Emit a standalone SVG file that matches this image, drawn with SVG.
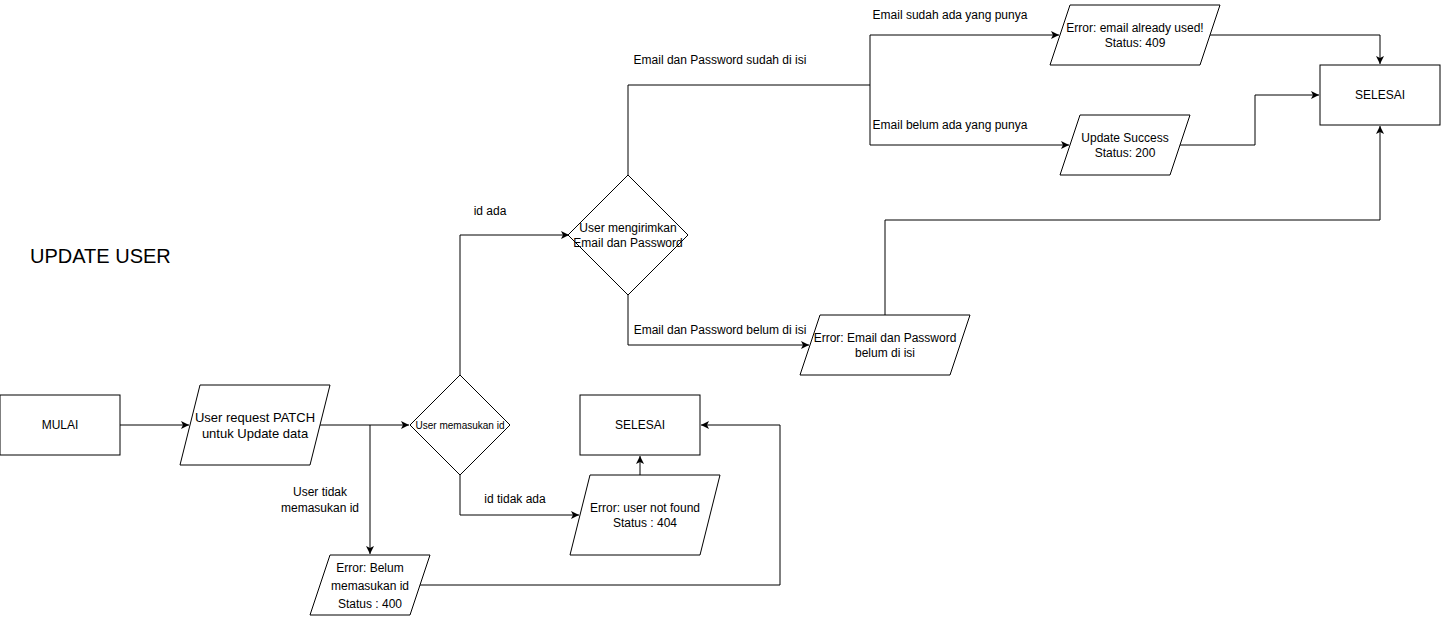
<svg xmlns="http://www.w3.org/2000/svg" width="1441" height="617" viewBox="0 0 1441 617">
<style>
.s{fill:#fff;stroke:#000;stroke-width:1}
.c{fill:none;stroke:#000;stroke-width:1}
text{font-family:"Liberation Sans",Arial,sans-serif;font-size:12px;fill:#000}
.m{text-anchor:middle}
</style>
<defs>
<marker id="a" markerWidth="10" markerHeight="10" refX="8" refY="4" orient="auto" markerUnits="userSpaceOnUse" viewBox="0 0 10 8">
<path d="M0,0 L8,4 L0,8 L2,4 Z" fill="#000"/>
</marker>
</defs>
<rect width="1441" height="617" fill="#fff"/>
<text x="30" y="263" style="font-size:20px">UPDATE USER</text>
<g id="connectors">
<path class="c" d="M120,425 H189" marker-end="url(#a)"/>
<path class="c" d="M320,425 H409" marker-end="url(#a)"/>
<path class="c" d="M370,425 V554" marker-end="url(#a)"/>
<path class="c" d="M420,585 H780 V425 H701" marker-end="url(#a)"/>
<path class="c" d="M460,475 V515 H579" marker-end="url(#a)"/>
<path class="c" d="M640,475 V456" marker-end="url(#a)"/>
<path class="c" d="M460,375 V235 H569" marker-end="url(#a)"/>
<path class="c" d="M628,295 V345 H809" marker-end="url(#a)"/>
<path class="c" d="M885,315 V220 H1380 V126" marker-end="url(#a)"/>
<path class="c" d="M628,175 V85 H870"/>
<path class="c" d="M870,35 V145"/>
<path class="c" d="M870,35 H1059" marker-end="url(#a)"/>
<path class="c" d="M870,145 H1069" marker-end="url(#a)"/>
<path class="c" d="M1210,35 H1380 V64" marker-end="url(#a)"/>
<path class="c" d="M1180,145 H1255 V95 H1319" marker-end="url(#a)"/>
<text x="320" y="496" class="m">User tidak</text>
<text x="320" y="512" class="m">memasukan id</text>
<text x="515" y="503" class="m">id tidak ada</text>
<text x="490" y="215" class="m">id ada</text>
<text x="720" y="334" class="m">Email dan Password belum di isi</text>
<text x="720" y="64" class="m">Email dan Password sudah di isi</text>
<text x="950" y="19" class="m">Email sudah ada yang punya</text>
<text x="950" y="129" class="m">Email belum ada yang punya</text>
</g>
<g id="mulai">
<rect class="s" x="0" y="395" width="120" height="60"/>
<text x="60" y="429" class="m">MULAI</text>
</g>
<g id="request">
<polygon class="s" points="200,385 330,385 310,465 180,465"/>
<text x="255" y="422" class="m" style="font-size:13px">User request PATCH</text>
<text x="255" y="438" class="m" style="font-size:13px">untuk Update data</text>
</g>
<g id="cek-id">
<polygon class="s" points="460,375 510,425 460,475 410,425"/>
<text x="460" y="429" class="m" style="font-size:10px">User memasukan id</text>
</g>
<g id="err-400">
<polygon class="s" points="330,555 430,555 410,615 310,615"/>
<text x="370" y="572" class="m">Error: Belum</text>
<text x="370" y="590" class="m">memasukan id</text>
<text x="370" y="608" class="m">Status : 400</text>
</g>
<g id="selesai-1">
<rect class="s" x="580" y="395" width="120" height="60"/>
<text x="640" y="429" class="m">SELESAI</text>
</g>
<g id="err-404">
<polygon class="s" points="590,475 720,475 700,555 570,555"/>
<text x="645" y="512" class="m">Error: user not found</text>
<text x="645" y="527" class="m">Status : 404</text>
</g>
<g id="cek-email">
<polygon class="s" points="628,175 688,235 628,295 568,235"/>
<text x="628" y="232" class="m">User mengirimkan</text>
<text x="628" y="247" class="m">Email dan Password</text>
</g>
<g id="err-email">
<polygon class="s" points="820,315 970,315 950,375 800,375"/>
<text x="885" y="342" class="m">Error: Email dan Password</text>
<text x="885" y="357" class="m">belum di isi</text>
</g>
<g id="err-409">
<polygon class="s" points="1070,5 1220,5 1200,65 1050,65"/>
<text x="1135" y="32" class="m">Error: email already used!</text>
<text x="1135" y="47" class="m">Status: 409</text>
</g>
<g id="success-200">
<polygon class="s" points="1080,115 1190,115 1170,175 1060,175"/>
<text x="1125" y="142" class="m">Update Success</text>
<text x="1125" y="157" class="m">Status: 200</text>
</g>
<g id="selesai-2">
<rect class="s" x="1320" y="65" width="120" height="60"/>
<text x="1380" y="99" class="m">SELESAI</text>
</g>
</svg>
